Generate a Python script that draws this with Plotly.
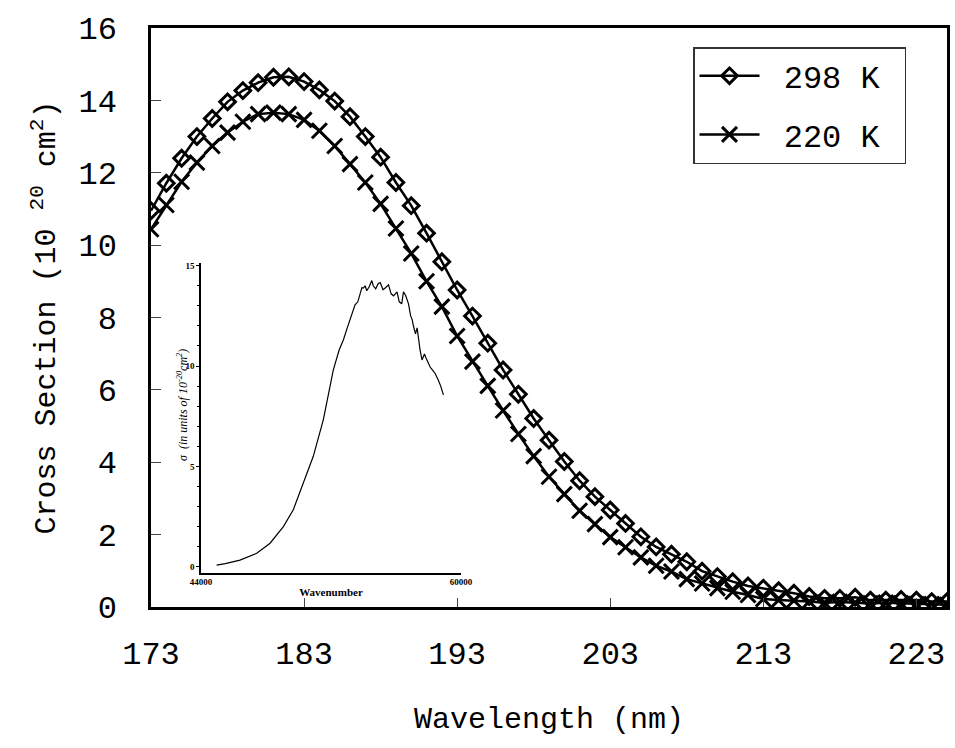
import plotly.graph_objects as go

# ---------------- data ----------------
wavelength = list(range(173, 226))

sigma_298 = [10.95, 11.71, 12.40, 13.00, 13.50, 13.96, 14.27, 14.49, 14.64, 14.65,
             14.52, 14.29, 13.98, 13.55, 13.00, 12.43, 11.73, 11.09, 10.33, 9.54,
             8.76, 8.04, 7.29, 6.55, 5.88, 5.21, 4.61, 4.02, 3.49, 3.05,
             2.68, 2.31, 1.94, 1.66, 1.46, 1.25, 0.99, 0.84, 0.70, 0.58,
             0.52, 0.45, 0.38, 0.29, 0.24, 0.24, 0.27, 0.19, 0.19, 0.21,
             0.19, 0.15, 0.15]

sigma_220 = [10.44, 11.11, 11.75, 12.28, 12.74, 13.11, 13.41, 13.62, 13.66, 13.62,
             13.46, 13.16, 12.74, 12.24, 11.73, 11.14, 10.46, 9.77, 9.00, 8.30,
             7.49, 6.78, 6.11, 5.43, 4.78, 4.17, 3.60, 3.12, 2.66, 2.29,
             1.93, 1.65, 1.37, 1.14, 0.98, 0.77, 0.65, 0.52, 0.42, 0.33,
             0.22, 0.19, 0.18, 0.15, 0.12, 0.14, 0.12, 0.10, 0.12, 0.10,
             0.08, 0.08, 0.06]

x_ticks = [173, 183, 193, 203, 213, 223]
y_ticks = [0, 2, 4, 6, 8, 10, 12, 14, 16]

inset_wavenumber = [44960, 45500, 46400, 47430, 48250, 49070, 49680, 50300, 50910, 51530,
                    52140, 52500, 52760, 53000, 53170, 53300, 53480, 53650, 53800, 53900,
                    53990, 54100, 54200, 54350, 54510, 54600, 54750, 54900, 55030, 55200,
                    55350, 55540, 55700, 55850, 56060, 56200, 56350, 56460, 56600, 56770,
                    56900, 57000, 57080, 57200, 57300, 57400, 57480, 57600, 57750, 57850,
                    58000, 58100, 58250, 58400, 58600, 58750, 58920]
inset_sigma = [0.08, 0.15, 0.33, 0.67, 1.17, 2.00, 2.84, 4.17, 5.50, 7.33,
               9.80, 10.80, 11.30, 11.90, 12.30, 12.60, 13.05, 13.20, 13.70, 13.90,
               13.88, 14.00, 13.75, 13.95, 14.26, 14.00, 13.85, 14.10, 14.16, 13.80,
               13.90, 14.05, 13.60, 13.50, 13.70, 13.20, 13.10, 13.70, 13.50, 13.10,
               12.50, 12.30, 11.97, 11.60, 11.90, 11.20, 10.80, 10.30, 10.60, 10.40,
               10.15, 9.95, 9.80, 9.64, 9.30, 9.00, 8.56]
inset_y_ticks = [0, 5, 10, 15]
inset_x_ticks = [44000, 60000]

# ---------------- layout geometry ----------------
W, H = 955, 748
L, R, T, B = 151, 947, 28, 607


def px_x(p):
    return (p - L) / (R - L)


def px_y(p):
    return (B - p) / (B - T)


MONO = "Liberation Mono, Courier New, monospace"
SERIF = "Liberation Serif, Times New Roman, serif"
NB = "\u00a0"

fig = go.Figure()

fig.add_trace(go.Scatter(
    x=wavelength, y=sigma_298, name=NB + "298 K" + NB, mode="lines+markers",
    legendgroup="a",
    line=dict(color="black", width=2.5),
    marker=dict(symbol="diamond-open", size=12, color="black",
                line=dict(color="black", width=3)),
))
fig.add_trace(go.Scatter(
    x=wavelength, y=sigma_220, name=NB + "220 K" + NB, mode="lines+markers",
    legendgroup="b",
    line=dict(color="black", width=2.5),
    marker=dict(symbol="x-thin-open", size=15, color="black",
                line=dict(color="black", width=3)),
))
fig.add_trace(go.Scatter(
    x=inset_wavenumber, y=inset_sigma, mode="lines", showlegend=False,
    xaxis="x2", yaxis="y2",
    line=dict(color="black", width=1.2),
))

fig.update_layout(
    width=W, height=H,
    margin=dict(l=L, r=W - R, t=T, b=H - B, pad=0, autoexpand=False),
    paper_bgcolor="white", plot_bgcolor="rgba(0,0,0,0)",
    font=dict(family=MONO, color="black", size=32),
    showlegend=True,
    legend=dict(
        x=px_x(693), y=px_y(47), xanchor="left", yanchor="top",
        bordercolor="#333", borderwidth=1.5, bgcolor="white",
        font=dict(family=MONO, size=32, color="black"),
        tracegroupgap=14, itemwidth=60,
    ),
    xaxis=dict(
        range=[173, 225], tickvals=x_ticks, ticktext=[str(v) for v in x_ticks],
        ticks="inside", ticklen=9, tickwidth=1.2, tickcolor="#444",
        showline=True, linecolor="black", linewidth=2.5, mirror=True,
        showgrid=False, zeroline=False, ticklabelstandoff=16, automargin=False,
        tickfont=dict(family=MONO, size=32),
        title=dict(text="Wavelength (nm)", standoff=34,
                   font=dict(family=MONO, size=30)),
    ),
    yaxis=dict(
        range=[0, 16], tickvals=y_ticks,
        ticks="inside", ticklen=10, tickwidth=1.2, tickcolor="#444",
        showline=True, linecolor="black", linewidth=2.5, mirror=True,
        showgrid=False, zeroline=False, ticklabelstandoff=25, automargin=False,
        tickfont=dict(family=MONO, size=32),
        title=dict(text="Cross Section (10 <sup>20</sup> cm<sup>2</sup>)", standoff=14,
                   font=dict(family=MONO, size=30)),
    ),
    xaxis2=dict(
        domain=[px_x(201), px_x(461)], anchor="y2",
        range=[44000, 60000], tickvals=inset_x_ticks,
        ticktext=[str(v) for v in inset_x_ticks],
        ticks="", showline=True, linecolor="black", linewidth=1.5,
        showgrid=False, zeroline=False, automargin=False,
        tickfont=dict(family=SERIF, size=9, weight="bold"),
        title=dict(text="Wavenumber", standoff=2,
                   font=dict(family=SERIF, size=11, weight="bold")),
    ),
    yaxis2=dict(
        domain=[px_y(572.7), px_y(263.3)], anchor="x2",
        range=[-0.3, 15.12], tickvals=inset_y_ticks,
        ticks="outside", ticklen=3, tickwidth=1, tickcolor="black",
        minor=dict(dtick=1, ticks="outside", ticklen=2, tickcolor="black"),
        showline=True, linecolor="black", linewidth=1.5,
        showgrid=False, zeroline=False, automargin=False,
        tickfont=dict(family=SERIF, size=9, weight="bold"),
    ),
    annotations=[
        dict(text="<i>σ  (in units of 10<sup>-20</sup>cm<sup>2</sup>)</i>",
             x=px_x(182), y=px_y(405), xref="paper", yref="paper",
             xanchor="center", yanchor="middle",
             textangle=-90, showarrow=False,
             font=dict(family=SERIF, size=12, color="black")),
    ],
)

fig.write_html("out.html",
               config={"displayModeBar": False},
               post_script="document.body.style.margin='0';document.body.style.overflow='hidden';")
